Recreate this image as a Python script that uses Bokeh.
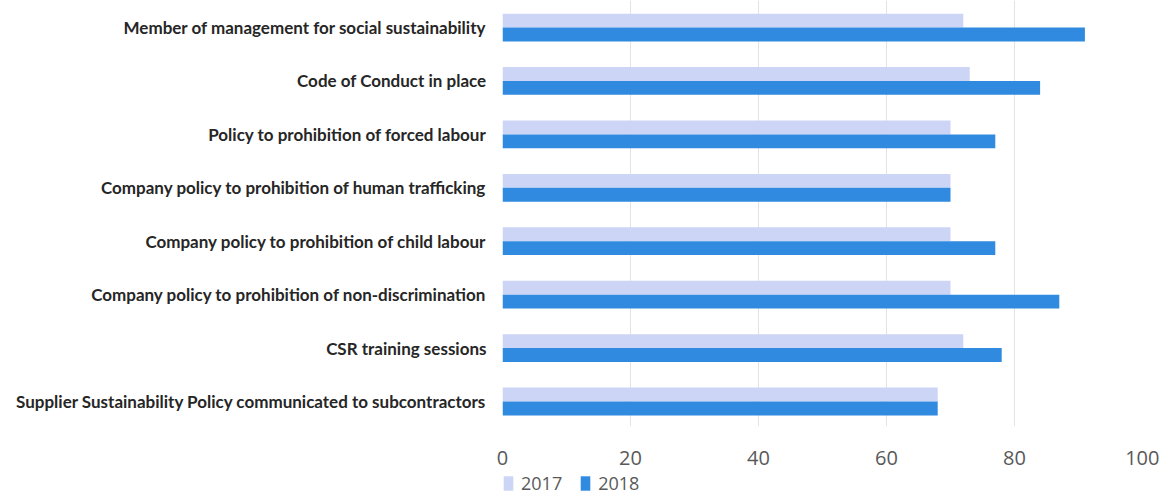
from bokeh.plotting import figure
from bokeh.layouts import column
from bokeh.models import Range1d, FixedTicker, Legend, LegendItem, ColumnDataSource
from bokeh.embed import file_html
from bokeh.resources import INLINE

categories = [
    "Member of management for social sustainability",
    "Code of Conduct in place",
    "Policy to prohibition of forced labour",
    "Company policy to prohibition of human trafficking",
    "Company policy to prohibition of child labour",
    "Company policy to prohibition of non-discrimination",
    "CSR training sessions",
    "Supplier Sustainability Policy communicated to subcontractors",
]
values_2017 = [72, 73, 70, 70, 70, 70, 72, 68]
values_2018 = [91, 84, 77, 70, 77, 87, 78, 68]
x_ticks = [0, 20, 40, 60, 80, 100]
series = ["2017", "2018"]
colors = ["#cdd5f6", "#2f8ae0"]

n = len(categories)
pos = [n - 1 - i for i in range(n)]
off = 0.13
src = ColumnDataSource(dict(
    y17=[p_ + off for p_ in pos],
    y18=[p_ - off for p_ in pos],
    v17=values_2017,
    v18=values_2018,
))

p = figure(frame_width=640, frame_height=426, output_backend="svg", toolbar_location=None,
           x_range=Range1d(0, 100), y_range=Range1d(-0.468, n - 1 + 0.506),
           min_border_left=502, min_border_right=17, min_border_top=0, min_border_bottom=45)
p.outline_line_color = None
p.background_fill_color = "white"

p.hbar(y="y17", left=0, right="v17", height=0.26, source=src,
       fill_color=colors[0], line_color=None)
p.hbar(y="y18", left=0, right="v18", height=0.26, source=src,
       fill_color=colors[1], line_color=None)

p.xaxis.ticker = FixedTicker(ticks=x_ticks)
p.xgrid.ticker = FixedTicker(ticks=x_ticks)
p.xgrid.grid_line_color = "#e3e3e3"
p.ygrid.grid_line_color = None
p.xaxis.axis_line_color = None
p.xaxis.major_tick_line_color = None
p.xaxis.minor_tick_line_color = None
p.xaxis.major_tick_out = 0
p.xaxis.major_tick_in = 0
p.xaxis.major_label_text_font = "Open Sans"
p.xaxis.major_label_text_font_size = "20px"
p.xaxis.major_label_text_color = "#595959"
p.xaxis.major_label_standoff = 24

p.yaxis.ticker = FixedTicker(ticks=pos)
p.yaxis.major_label_overrides = {pp: c for pp, c in zip(pos, categories)}
p.yaxis.axis_line_color = None
p.yaxis.major_tick_line_color = None
p.yaxis.minor_tick_line_color = None
p.yaxis.major_tick_out = 0
p.yaxis.major_tick_in = 0
p.yaxis.major_label_text_font = "Lato"
p.yaxis.major_label_text_font_style = "bold"
p.yaxis.major_label_text_font_size = "17px"
p.yaxis.major_label_text_color = "#262626"
p.yaxis.major_label_standoff = 16

# legend strip (its frame is aligned with the main frame by the column layout)
lg = figure(frame_width=640, frame_height=26, output_backend="svg", toolbar_location=None,
            x_range=Range1d(0, 1), y_range=Range1d(0, 1),
            x_axis_type=None, y_axis_type=None,
            min_border_left=502, min_border_right=17, min_border_top=0, min_border_bottom=0)
lg.outline_line_color = None
lg.xgrid.grid_line_color = None
lg.ygrid.grid_line_color = None
stub = ColumnDataSource(dict(y=[-10], r=[1]))
d17 = lg.hbar(y="y", left=0, right="r", height=0.5, source=stub, fill_color=colors[0], line_color=None)
d18 = lg.hbar(y="y", left=0, right="r", height=0.5, source=stub, fill_color=colors[1], line_color=None)
legend = Legend(items=[LegendItem(label=series[0], renderers=[d17]),
                       LegendItem(label=series[1], renderers=[d18])],
                orientation="horizontal", location=(0, 2),
                label_text_font="Open Sans", label_text_font_size="18px",
                label_text_color="#595959", glyph_width=12, glyph_height=18,
                label_height=20, label_standoff=7, spacing=17, padding=0, margin=0,
                border_line_color=None, background_fill_alpha=0)
lg.add_layout(legend, "center")

layout = column(p, lg, spacing=0)
open("out.html", "w").write(file_html(layout, INLINE))
